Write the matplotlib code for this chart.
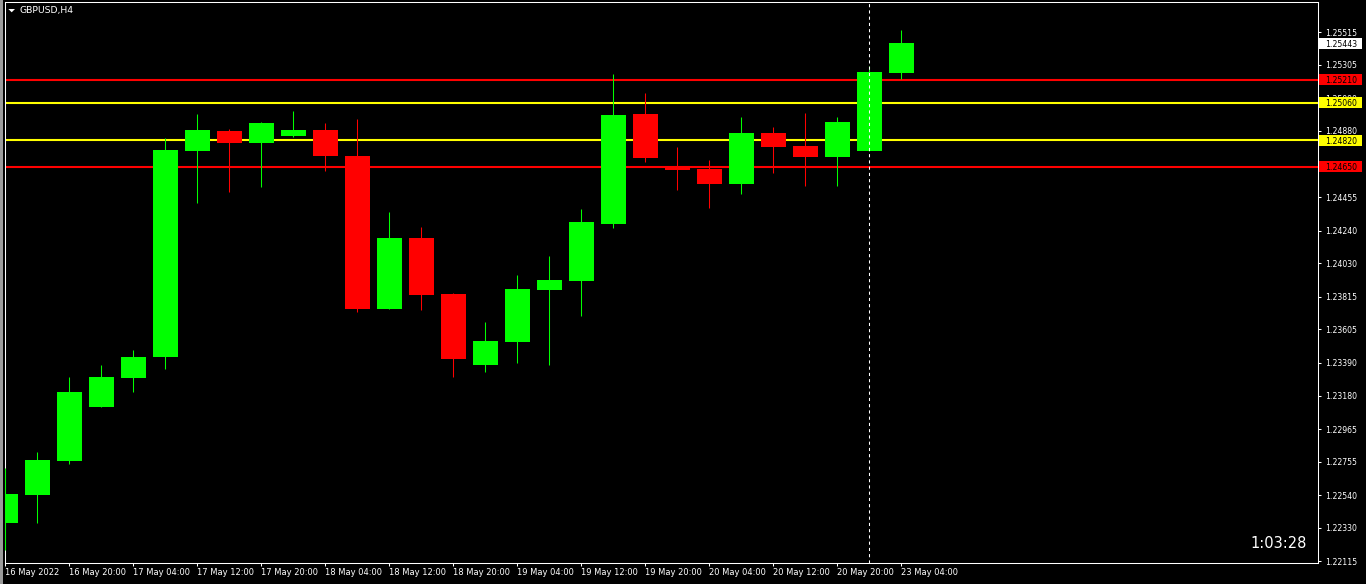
import matplotlib
matplotlib.use("Agg")
import matplotlib.pyplot as plt
import matplotlib.transforms as mtransforms
from matplotlib.patches import Rectangle, Polygon

# GBPUSD H4, 16 May 12:00 .. 23 May 04:00
opens  = [1.22364, 1.22542, 1.22762, 1.23109, 1.23295, 1.23430, 1.24753, 1.24879,
          1.24804, 1.24849, 1.24886, 1.24719, 1.23736, 1.24192, 1.23832, 1.23378,
          1.23526, 1.23860, 1.23918, 1.24284, 1.24988, 1.24655, 1.24635, 1.24541,
          1.24866, 1.24783, 1.24714, 1.24753, 1.25254]
highs  = [1.22715, 1.22818, 1.23299, 1.23377, 1.23473, 1.24834, 1.24988, 1.24892,
          1.24937, 1.25008, 1.24931, 1.24956, 1.24359, 1.24263, 1.23839, 1.23653,
          1.23955, 1.24077, 1.24378, 1.25245, 1.25123, 1.24777, 1.24693, 1.24969,
          1.24905, 1.24995, 1.24969, 1.25297, 1.25528]
lows   = [1.22188, 1.22364, 1.22743, 1.23109, 1.23203, 1.23353, 1.24419, 1.24489,
          1.24522, 1.24843, 1.24624, 1.23719, 1.23736, 1.23732, 1.23301, 1.23333,
          1.23391, 1.23378, 1.23693, 1.24258, 1.24682, 1.24502, 1.24385, 1.24477,
          1.24611, 1.24528, 1.24528, 1.24753, 1.25215]
closes = [1.22548, 1.22766, 1.23203, 1.23299, 1.23428, 1.24757, 1.24886, 1.24804,
          1.24931, 1.24886, 1.24721, 1.23736, 1.24192, 1.23828, 1.23417, 1.23531,
          1.23865, 1.23922, 1.24295, 1.24982, 1.24708, 1.24631, 1.24541, 1.24866,
          1.24778, 1.24714, 1.24937, 1.25258, 1.25443]

date_ticks = [0, 2, 4, 6, 8, 10, 12, 14, 16, 18, 20, 22, 24, 26, 28]
date_labels = ["16 May 2022", "16 May 20:00", "17 May 04:00", "17 May 12:00",
               "17 May 20:00", "18 May 04:00", "18 May 12:00", "18 May 20:00",
               "19 May 04:00", "19 May 12:00", "19 May 20:00", "20 May 04:00",
               "20 May 12:00", "20 May 20:00", "23 May 04:00"]

price_ticks = [1.25515, 1.25305, 1.25090, 1.24880, 1.24665, 1.24455, 1.24240,
               1.24030, 1.23815, 1.23605, 1.23390, 1.23180, 1.22965, 1.22755,
               1.22540, 1.22330, 1.22115]

red_levels = [1.25210, 1.24650]
yellow_levels = [1.25060, 1.24820]
last_price = 1.25443
cursor_bar = 27
timer_text = "1:03:28"

W, H = 1366, 584
# plot box in pixels
left, right, top, bottom = 4.5, 1318.3, 2.0, 562.7
axw = right - left

fig = plt.figure(figsize=(W / 100, H / 100), dpi=100, facecolor="black")
ax = fig.add_axes([left / W, 1 - bottom / H, axw / W, (bottom - top) / H])
ax.set_facecolor("black")

green = "#00ff00"
red = "#ff0000"
yellow = "#ffff00"

x = list(range(len(opens)))
cols = [green if c >= o else red for o, c in zip(opens, closes)]

ax.vlines(x, lows, highs, colors=cols, linewidth=0.75, zorder=3)
ax.bar(x, [abs(c - o) for o, c in zip(opens, closes)],
       bottom=[min(o, c) for o, c in zip(opens, closes)],
       width=0.78, color=cols, linewidth=0, zorder=3)

for lv in red_levels:
    ax.axhline(lv, color=red, lw=1.5, zorder=2)
for lv in yellow_levels:
    ax.axhline(lv, color=yellow, lw=1.5, zorder=2)

ax.axvline(cursor_bar, color="white", lw=0.75, dashes=(3, 3), zorder=4)

ax.set_xlim((left - 5.2) / 32, (right - 5.2) / 32)
ax.set_xticks(date_ticks, date_labels, ha="left")
ax.yaxis.tick_right()
ax.set_yticks(price_ticks, [f"{p:.5f}" for p in price_ticks])
ax.set_ylim(1.22107, 1.25708)

ax.tick_params(axis="x", colors="white", length=2.2, width=0.75, pad=1.5, labelsize=6.0)
ax.tick_params(axis="y", colors="white", length=2.2, width=0.75, pad=2.5, labelsize=5.6)
for sp in ax.spines.values():
    sp.set_color("white")
    sp.set_linewidth(0.75)

# price boxes on the right scale
trans = mtransforms.blended_transform_factory(ax.transAxes, ax.transData)
px_per_unit = (bottom - top) / (1.25708 - 1.22107)
boxes = [(lv, red) for lv in red_levels] + [(lv, yellow) for lv in yellow_levels] + [(last_price, "white")]
for lv, c in boxes:
    ax.add_patch(Rectangle((1 + 1.0 / axw, lv - 5.5 / px_per_unit), 42.4 / axw, 11 / px_per_unit,
                           transform=trans, clip_on=False, fc=c, ec="none", zorder=5))
    ax.text(1 + 6.7 / axw, lv, f"{lv:.5f}", transform=trans, ha="left", va="center_baseline",
            fontsize=5.6, color="black", zorder=6, clip_on=False)

# window edge and chart title
fig.patches.append(Rectangle((0, 0), 2.7 / W, 1, transform=fig.transFigure, fc="#9a9a9a", ec="none"))
fig.patches.append(Polygon([(8.3 / W, 1 - 9 / H), (15 / W, 1 - 9 / H), (11.7 / W, 1 - 12.3 / H)],
                           closed=True, transform=fig.transFigure, fc="white", ec="none"))
fig.text(20 / W, 1 - 10.7 / H, "GBPUSD,H4", color="white", fontsize=6.7, ha="left", va="center")
fig.text(1307 / W, 1 - 544 / H, timer_text, color="white", fontsize=10.5, ha="right", va="center")

fig.savefig("out.png", dpi=100, facecolor="black")
